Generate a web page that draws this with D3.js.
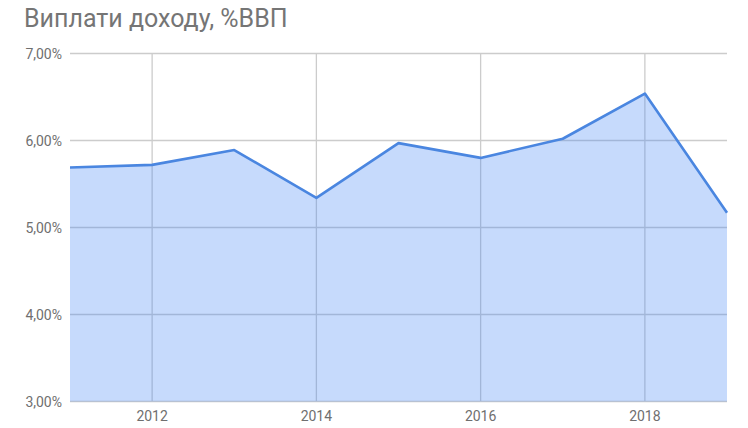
<!DOCTYPE html>
<html><head><meta charset="utf-8">
<script src="https://cdn.jsdelivr.net/npm/d3@7"></script>
<style>html,body{margin:0;padding:0;background:#fff;}svg{display:block;font-family:Roboto,"Noto Sans",sans-serif;}</style>
</head><body>
<svg id="c" width="748" height="428"></svg>
<script>
const years = [2011, 2012, 2013, 2014, 2015, 2016, 2017, 2018, 2019];
const values = [5.69, 5.72, 5.89, 5.34, 5.97, 5.80, 6.02, 6.54, 5.17];
const yTicks = [3, 4, 5, 6, 7];
const xTicks = [2012, 2014, 2016, 2018];
const title = "Виплати доходу, %ВВП";

const svg = d3.select("#c");
const m = {l: 70, r: 21, t: 53.5, b: 26.5};
const W = 748, H = 428;
const x = d3.scaleLinear().domain([2011, 2019]).range([m.l, W - m.r]);
const y = d3.scaleLinear().domain([3, 7]).range([H - m.b, m.t]);

svg.append("text").attr("x", 24).attr("y", 27).attr("font-size", 25)
  .attr("fill", "#757575").text(title);

// grid
svg.append("g").selectAll("line").data(yTicks).join("line")
  .attr("x1", m.l).attr("x2", W - m.r)
  .attr("y1", d => y(d)).attr("y2", d => y(d))
  .attr("stroke", "#cccccc").attr("stroke-width", 1.3);
svg.append("g").selectAll("line").data(xTicks).join("line")
  .attr("x1", d => x(d)).attr("x2", d => x(d))
  .attr("y1", m.t).attr("y2", H - m.b)
  .attr("stroke", "#cccccc").attr("stroke-width", 1.3);

const pts = years.map((yr, i) => [yr, values[i]]);
svg.append("path").datum(pts)
  .attr("d", d3.area().x(d => x(d[0])).y0(y(3)).y1(d => y(d[1])))
  .attr("fill", "#4285f4").attr("fill-opacity", 0.3);
svg.append("path").datum(pts)
  .attr("d", d3.line().x(d => x(d[0])).y(d => y(d[1])))
  .attr("fill", "none").attr("stroke", "#4a86e0").attr("stroke-width", 2.6)
  .attr("stroke-linejoin", "round");

// axes labels
const fmt = d => d.toFixed(2).replace(".", ",") + "%";
svg.append("g").selectAll("text").data(yTicks).join("text")
  .attr("x", 62).attr("y", d => y(d) + 5).attr("text-anchor", "end")
  .attr("font-size", 14).attr("fill", "#6f6f6f").text(fmt);
svg.append("g").selectAll("text").data(xTicks).join("text")
  .attr("x", d => x(d)).attr("y", 421).attr("text-anchor", "middle")
  .attr("font-size", 14).attr("fill", "#6f6f6f").text(d => d);
</script>
</body></html>
